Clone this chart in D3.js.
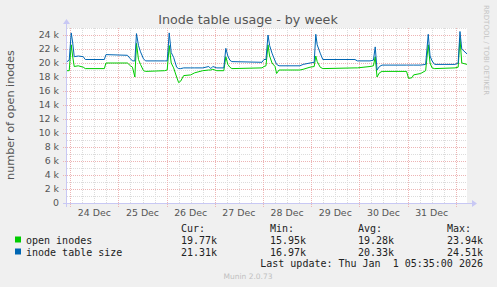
<!DOCTYPE html>
<html>
<head>
<meta charset="utf-8">
<script src="https://cdn.jsdelivr.net/npm/d3@7/dist/d3.min.js"></script>
<style>
  body { margin: 0; background: #f0f0f0; }
  svg { display: block; }
  text { font-family: "DejaVu Sans", sans-serif; }
  .mono { font-family: "DejaVu Sans Mono", monospace; font-size: 10px; fill: #222; }
</style>
</head>
<body>
<svg id="chart" width="497" height="287"></svg>
<script>
// hours since 24 Dec 2025 00:00 (UTC) for each sample
const hours = [-1.6, -0.5, 0.5, 1.2, 2.0, 4.0, 6.5, 7.5, 17.0, 17.8, 28.5, 30.0, 31.0, 32.2,
  33.0, 34.0, 35.0, 36.5, 37.5, 47.0, 48.3, 49.3, 50.3, 51.5, 53.0, 54.0, 55.0, 56.5, 60.0,
  62.0, 66.0, 69.0, 70.0, 71.0, 73.0, 76.5, 77.5, 78.5, 79.5, 80.5, 95.5, 96.5, 97.5, 98.5,
  99.3, 100.5, 102.0, 102.8, 104.0, 114.4, 116.0, 119.4, 121.5, 122.3, 123.0, 124.5, 125.8,
  141.8, 143.0, 149.3, 151.0, 151.9, 152.8, 154.0, 155.3, 167.5, 168.5, 170.2, 171.0, 174.5,
  177.0, 178.3, 179.2, 180.2, 181.5, 191.6, 193.2, 194.1, 195.0, 197.6];

// inode table size (k)
const tableSize = [20.2, 20.4, 24.3, 23.0, 20.9, 21.0, 20.9, 20.5, 20.5, 21.2, 21.1, 20.6, 20.3, 20.3,
  24.2, 22.5, 21.6, 20.6, 20.3, 20.3, 20.3, 24.3, 21.5, 20.8, 19.4, 19.2, 19.2, 19.3, 19.3,
  19.3, 19.3, 19.5, 19.2, 19.5, 19.3, 19.3, 22.1, 21.0, 20.4, 20.2, 20.1, 20.5, 20.5, 24.0,
  22.5, 21.4, 20.3, 19.8, 19.6, 19.6, 19.8, 20.0, 20.1, 24.1, 22.6, 21.4, 20.5,
  20.5, 20.3, 20.3, 20.4, 22.3, 19.0, 19.5, 19.7, 19.7, 19.7, 19.7, 19.7, 19.7,
  19.8, 24.1, 21.0, 20.3, 19.8, 19.8, 20.0, 24.5, 22.0, 21.3];

// open inodes (k)
const openInodes = [18.9, 18.9, 22.6, 21.0, 19.5, 19.6, 19.4, 19.2, 19.2, 20.0, 20.0, 19.6, 19.4, 18.0,
  22.8, 20.5, 19.8, 18.9, 18.8, 18.9, 19.0, 22.5, 20.0, 19.3, 18.0, 17.2, 17.4, 18.2, 18.3,
  18.6, 18.9, 19.0, 19.0, 19.1, 18.9, 18.9, 20.9, 19.8, 19.4, 19.2, 19.3, 19.5, 19.6, 22.6,
  21.0, 20.0, 19.5, 18.5, 19.0, 19.0, 19.1, 19.4, 19.5, 21.0, 20.2, 19.4, 19.2,
  19.3, 19.3, 19.5, 19.6, 20.9, 18.0, 18.6, 18.8, 18.8, 17.8, 17.9, 18.3, 18.5,
  18.9, 22.6, 20.0, 19.3, 19.2, 19.3, 19.4, 23.5, 20.0, 19.8];

const yTicks = [0, 2, 4, 6, 8, 10, 12, 14, 16, 18, 20, 22, 24];
const legendNames = ["open inodes", "inode table size"];
const legendColors = ["#00cc00", "#0066b3"];
const statHeads = ["Cur:", "Min:", "Avg:", "Max:"];
const statRows = [
  ["19.77k", "15.95k", "19.28k", "23.94k"],
  ["21.31k", "16.97k", "20.33k", "24.51k"]
];

const base = Date.UTC(2025, 11, 24);
const toDate = h => new Date(base + h * 3600e3);

const svg = d3.select("#chart");
const plotL = 67, plotR = 467, plotT = 28, plotB = 203;

const x = d3.scaleUtc()
  .domain([toDate(-1.6), toDate(197.6)])
  .range([plotL, plotR]);
const y = d3.scaleLinear().domain([0, 25]).range([plotB, plotT]);

// plot background
svg.append("rect")
  .attr("x", plotL).attr("y", plotT)
  .attr("width", plotR - plotL).attr("height", plotB - plotT)
  .attr("fill", "#fff");

// grid
const grid = svg.append("g");
grid.selectAll(".hmin")
  .data(d3.range(1, 26, 2))
  .join("line")
  .attr("x1", plotL).attr("x2", plotR)
  .attr("y1", d => Math.round(y(d)) + 0.5).attr("y2", d => Math.round(y(d)) + 0.5)
  .attr("stroke", "#dcdcdc").attr("stroke-dasharray", "1,1");
grid.selectAll(".vmin")
  .data(d3.utcHour.every(6).range(x.domain()[0], x.domain()[1]).filter(d => d.getUTCHours() !== 0))
  .join("line")
  .attr("x1", d => Math.round(x(d)) + 0.5).attr("x2", d => Math.round(x(d)) + 0.5)
  .attr("y1", plotT).attr("y2", plotB)
  .attr("stroke", "#dcdcdc").attr("stroke-dasharray", "1,1");
grid.selectAll(".hmaj")
  .data(yTicks.slice(1))
  .join("line")
  .attr("x1", plotL - 4).attr("x2", plotR)
  .attr("y1", d => Math.round(y(d)) + 0.5).attr("y2", d => Math.round(y(d)) + 0.5)
  .attr("stroke", "#edb4b4").attr("stroke-dasharray", "1,1");
const days = d3.utcDay.range(x.domain()[0], x.domain()[1]);
grid.selectAll(".vmaj")
  .data(days)
  .join("line")
  .attr("x1", d => Math.round(x(d)) + 0.5).attr("x2", d => Math.round(x(d)) + 0.5)
  .attr("y1", plotT).attr("y2", plotB + 4)
  .attr("stroke", "#edb4b4").attr("stroke-dasharray", "1,1");

// axes (munin style arrows)
const axisCol = "#c8c8f4";
svg.append("line").attr("x1", plotL - 4).attr("x2", plotR + 5)
  .attr("y1", plotB + 0.5).attr("y2", plotB + 0.5).attr("stroke", axisCol);
svg.append("path").attr("d", `M${plotR + 5},${plotB - 3}L${plotR + 10},${plotB + 0.5}L${plotR + 5},${plotB + 4}Z`)
  .attr("fill", axisCol);
svg.append("line").attr("x1", plotL - 0.5).attr("x2", plotL - 0.5)
  .attr("y1", plotB + 4).attr("y2", plotT - 5).attr("stroke", axisCol);
svg.append("path").attr("d", `M${plotL - 4},${plotT - 4}L${plotL - 0.5},${plotT - 9}L${plotL + 3},${plotT - 4}Z`)
  .attr("fill", axisCol);

// y tick labels
svg.append("g").selectAll("text")
  .data(yTicks)
  .join("text")
  .attr("x", 59).attr("y", d => y(d) + 3.4)
  .attr("text-anchor", "end")
  .attr("font-size", "9.4px").attr("fill", "#555")
  .text(d => d === 0 ? "0" : d + " k");

// x tick labels at noon
svg.append("g").selectAll("text")
  .data(days.filter(d => x(d3.utcHour.offset(d, 12)) < plotR))
  .join("text")
  .attr("x", d => x(d3.utcHour.offset(d, 12)))
  .attr("y", 216)
  .attr("text-anchor", "middle")
  .attr("font-size", "9.4px").attr("fill", "#555")
  .text(d => d3.utcFormat("%-d %b")(d));

// series
const line = vals => d3.line()
  .x((d, i) => x(toDate(hours[i])))
  .y(d => y(d))(vals);
svg.append("path").attr("d", line(openInodes))
  .attr("fill", "none").attr("stroke", legendColors[0]).attr("stroke-width", 1);
svg.append("path").attr("d", line(tableSize))
  .attr("fill", "none").attr("stroke", legendColors[1]).attr("stroke-width", 1);

// title & labels
svg.append("text").attr("x", 248).attr("y", 24)
  .attr("text-anchor", "middle").attr("font-size", "12.7px").attr("fill", "#555")
  .text("Inode table usage - by week");
svg.append("text")
  .attr("transform", "translate(14,115) rotate(-90)")
  .attr("text-anchor", "middle").attr("font-size", "11.2px").attr("fill", "#555")
  .text("number of open inodes");
svg.append("text")
  .attr("transform", "translate(484,5) rotate(90)")
  .attr("font-size", "7px").attr("fill", "#c4c4c4")
  .text("RRDTOOL / TOBI OETIKER");

// legend
const colX = [181, 270, 358, 447];
svg.append("g").selectAll("text")
  .data(statHeads)
  .join("text").attr("class", "mono")
  .attr("x", (d, i) => colX[i]).attr("y", 232)
  .text(d => d);
legendNames.forEach((name, r) => {
  const yy = 243.5 + r * 12;
  svg.append("rect").attr("x", 15).attr("y", yy - 7).attr("width", 6).attr("height", 6)
    .attr("fill", legendColors[r]);
  svg.append("text").attr("class", "mono").attr("x", 26).attr("y", yy).text(name);
  svg.append("g").selectAll("text")
    .data(statRows[r])
    .join("text").attr("class", "mono")
    .attr("x", (d, i) => colX[i]).attr("y", yy)
    .text(d => d);
});
svg.append("text").attr("class", "mono")
  .attr("x", 483).attr("y", 267).attr("text-anchor", "end")
  .style("white-space", "pre")
  .text("Last update: Thu Jan  1 05:35:00 2026");
svg.append("text").attr("x", 248).attr("y", 279)
  .attr("text-anchor", "middle").attr("font-size", "7.5px").attr("fill", "#c0c0c0")
  .text("Munin 2.0.73");
</script>
</body>
</html>
